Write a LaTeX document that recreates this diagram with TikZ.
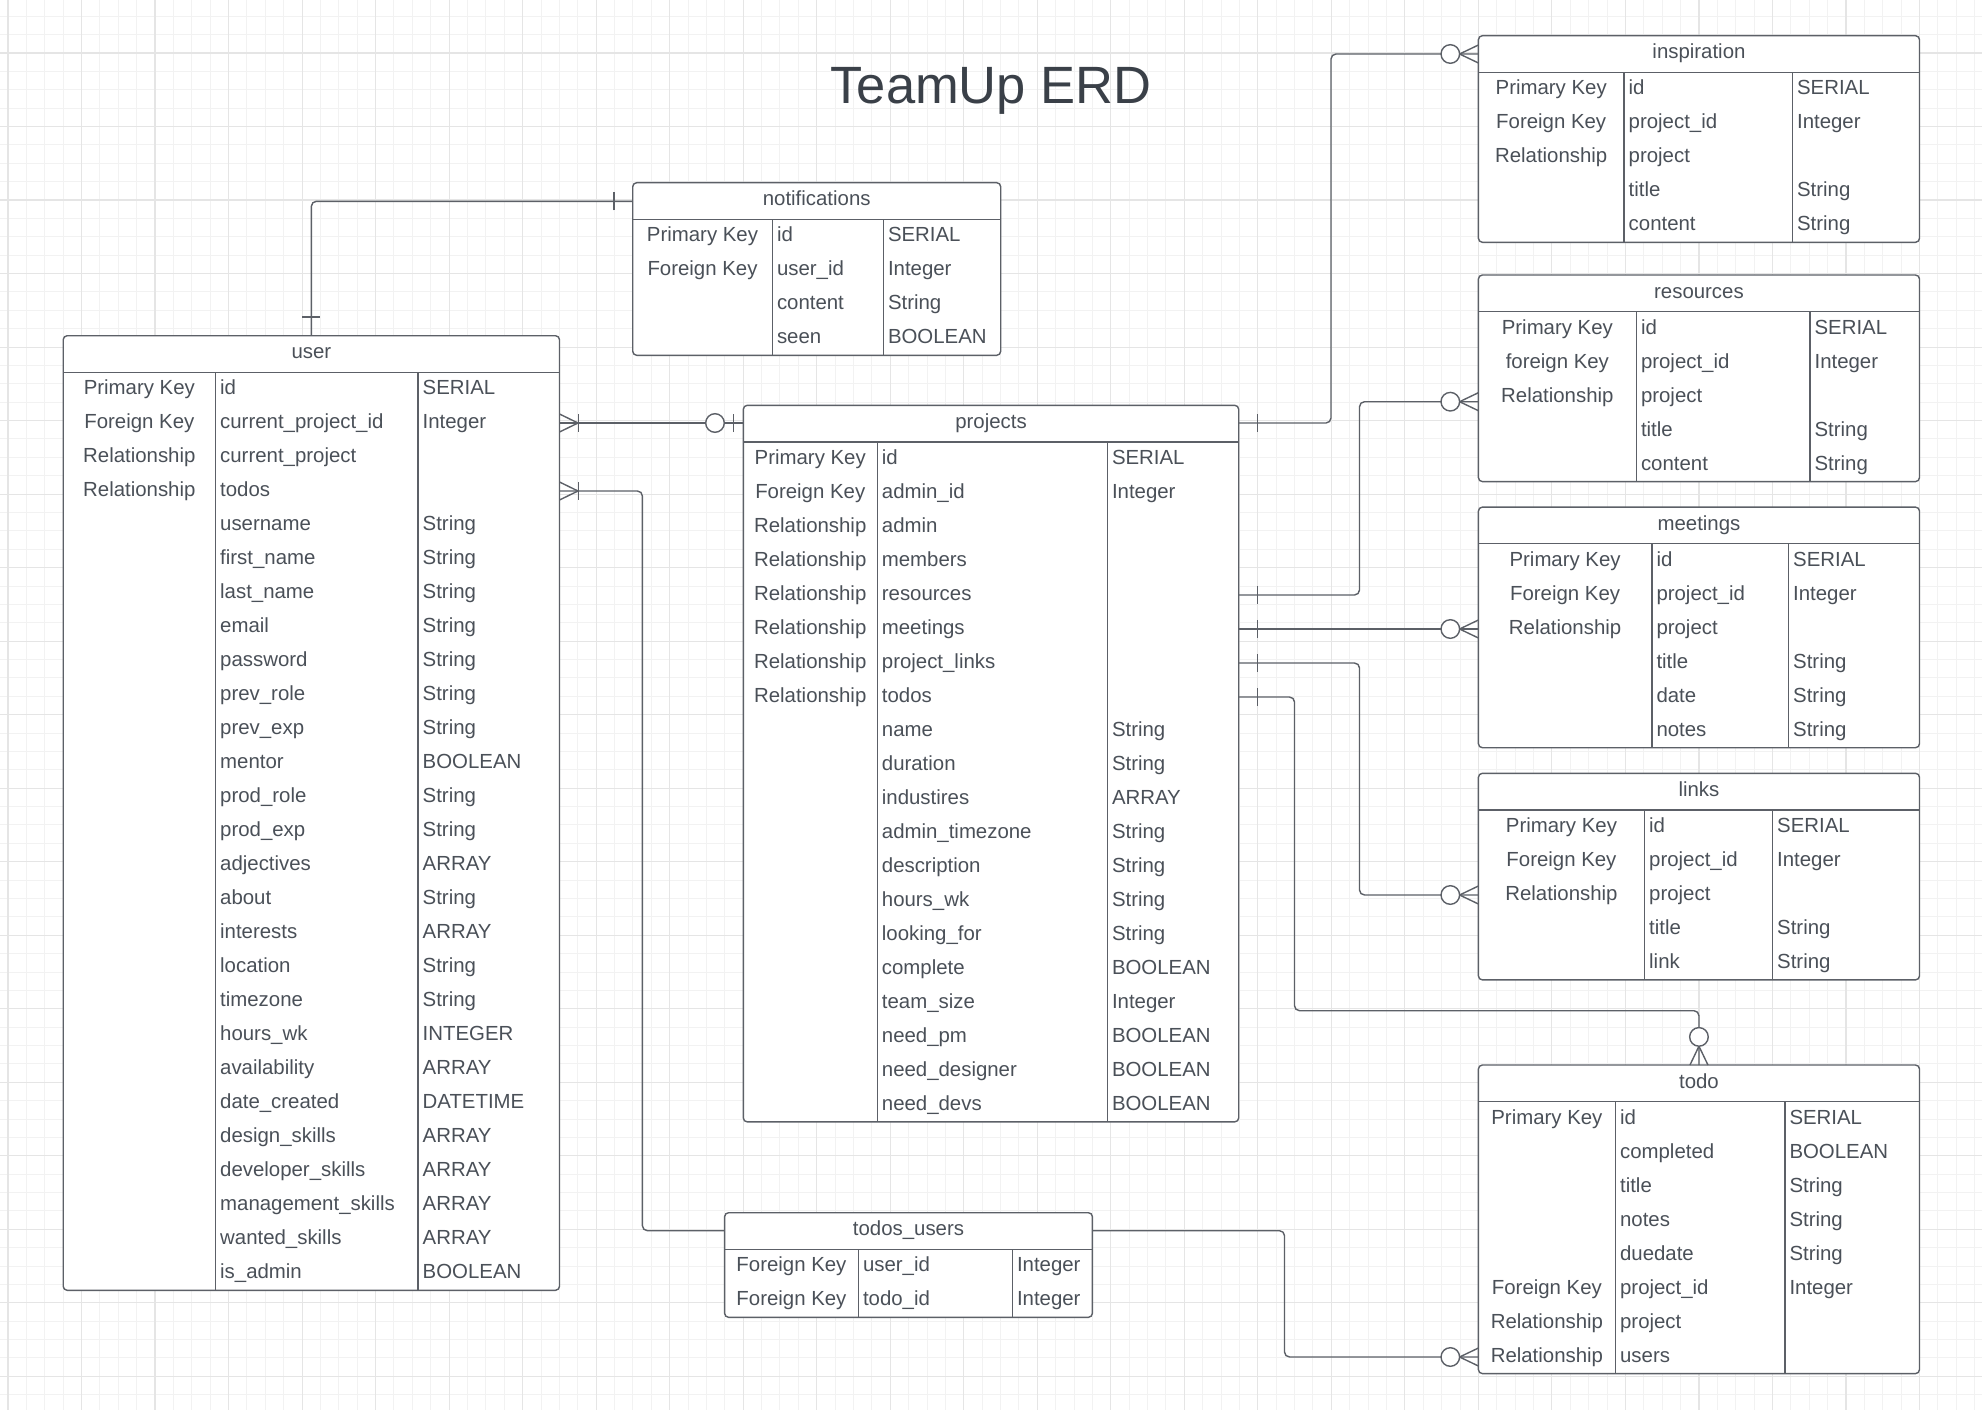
\documentclass[tikz,border=0pt]{standalone}
\usepackage{fontspec}
\setmainfont{Liberation Sans}
\usetikzlibrary{fit}

\definecolor{erdline}{HTML}{5C6067}
\definecolor{erdtext}{HTML}{4A5058}
\definecolor{erdtitle}{HTML}{3A4048}
\definecolor{gridminor}{HTML}{F2F2F2}
\definecolor{gridmajor}{HTML}{E5E5E5}

\tikzset{
  entity/.style={draw=erdline, line width=1.4pt, rounded corners=4pt, fill=white, inner sep=0pt, outer sep=0pt},
  boxline/.style={draw=erdline, line width=1.4pt},
  headtext/.style={anchor=base, inner sep=0pt, text=erdtext, font=\fontsize{20.4}{24}\selectfont},
  keytext/.style={headtext},
  celltext/.style={headtext, anchor=base west},
  conn/.style={draw=erdline, line width=1.4pt, rounded corners=5pt},
  gridfine/.style={draw=gridminor, line width=1pt},
  gridbold/.style={draw=gridmajor, line width=1.1pt},
  % cardinality marks, drawn outward from the entity edge along +x
  crowbar/.pic={
    \draw[conn, sharp corners] (0,-9) -- (18.5,0) -- (0,9);
    \draw[conn] (19,-9) -- (19,9);
  },
  crowring/.pic={
    \draw[conn, sharp corners] (0,-9) -- (18.8,0) -- (0,9);
    \draw[conn, fill=white] (28.1,0) circle[radius=9.3pt];
  },
  ringbar/.pic={
    \draw[conn] (10,-9) -- (10,9);
    \draw[conn, fill=white] (28.3,0) circle[radius=9.3pt];
  },
  onebar/.pic={
    \draw[conn] (18.7,-9) -- (18.7,9);
  }
}

% name, left, top, right, split 1, split 2, rows, title, key/field/type list
\newcommand{\erdtable}[9]{%
  \pgfmathsetmacro\erdhead{#3+36.6}
  \pgfmathsetmacro\erdbottom{#3+36.6+34*#7}
  \node[entity, fit={(#2,#3) (#4,\erdbottom)}] (#1) {};
  \node[headtext] (#1-title) at ({(#2+#4)/2},#3+23) {#8};
  \draw[boxline] (#2,\erdhead) -- (#4,\erdhead);
  \draw[boxline] (#5,\erdhead) -- (#5,\erdbottom);
  \draw[boxline] (#6,\erdhead) -- (#6,\erdbottom);
  \foreach \rkey/\rfield/\rtype [count=\rownum] in {#9} {
    \pgfmathsetmacro\rowy{\erdhead+34*(\rownum-1)+22.5}
    \node[keytext] (#1-k\rownum) at ({(#2+#5)/2},\rowy) {\rkey};
    \node[celltext] (#1-f\rownum) at (#5+4.5,\rowy) {\rfield};
    \node[celltext] (#1-t\rownum) at (#6+4.5,\rowy) {\rtype};
  }
}

\begin{document}
\begin{tikzpicture}[x=1pt, y=-1pt]
  \useasboundingbox (0,0) rectangle (1982,1410);
  \fill[white] (0,0) rectangle (1982,1410);

  % grid
  \foreach \gx in {0,...,107} \draw[gridfine] ({8+18.38*\gx},0) -- ({8+18.38*\gx},1410);
  \foreach \gy in {-3,...,74} \draw[gridfine] (0,{53+18.38*\gy}) -- (1982,{53+18.38*\gy});
  \foreach \gx in {0,4,...,104} \draw[gridbold] ({8+18.38*\gx},0) -- ({8+18.38*\gx},1410);
  \foreach \gy in {0,4,...,72} \draw[gridbold] (0,{53+18.38*\gy}) -- (1982,{53+18.38*\gy});

  \node[anchor=base, inner sep=0pt, text=erdtitle, font=\fontsize{52.5}{62}\selectfont] (title) at (991,104) {TeamUp ERD};

  % tables
  \erdtable{user}{63.2}{335.7}{559.5}{215.5}{418}{27}{user}{Primary Key/id/SERIAL, Foreign Key/current\_project\_id/Integer,
    Relationship/current\_project/, Relationship/todos/, /username/String, /first\_name/String, /last\_name/String,
    /email/String, /password/String, /prev\_role/String, /prev\_exp/String, /mentor/BOOLEAN, /prod\_role/String,
    /prod\_exp/String, /adjectives/ARRAY, /about/String, /interests/ARRAY, /location/String, /timezone/String,
    /hours\_wk/INTEGER, /availability/ARRAY, /date\_created/DATETIME, /design\_skills/ARRAY, /developer\_skills/ARRAY,
    /management\_skills/ARRAY, /wanted\_skills/ARRAY, /is\_admin/BOOLEAN}
  \erdtable{notifications}{632.7}{182.7}{1000.7}{772.3}{883.3}{4}{notifications}{Primary Key/id/SERIAL,
    Foreign Key/user\_id/Integer, /content/String, /seen/BOOLEAN}
  \erdtable{projects}{743.3}{405.3}{1238.7}{877.2}{1107.3}{20}{projects}{Primary Key/id/SERIAL,
    Foreign Key/admin\_id/Integer, Relationship/admin/, Relationship/members/, Relationship/resources/,
    Relationship/meetings/, Relationship/project\_links/, Relationship/todos/, /name/String, /duration/String,
    /industires/ARRAY, /admin\_timezone/String, /description/String, /hours\_wk/String, /looking\_for/String,
    /complete/BOOLEAN, /team\_size/Integer, /need\_pm/BOOLEAN, /need\_designer/BOOLEAN, /need\_devs/BOOLEAN}
  \erdtable{todosusers}{724.6}{1212.7}{1092.4}{858.3}{1012.3}{2}{todos\_users}{Foreign Key/user\_id/Integer,
    Foreign Key/todo\_id/Integer}
  \erdtable{inspiration}{1478.4}{35.7}{1919.5}{1624}{1792.4}{5}{inspiration}{Primary Key/id/SERIAL,
    Foreign Key/project\_id/Integer, Relationship/project/, /title/String, /content/String}
  \erdtable{resources}{1478.4}{275}{1919.5}{1636.3}{1809.9}{5}{resources}{Primary Key/id/SERIAL,
    foreign Key/project\_id/Integer, Relationship/project/, /title/String, /content/String}
  \erdtable{meetings}{1478.4}{507.1}{1919.5}{1651.8}{1788.5}{6}{meetings}{Primary Key/id/SERIAL,
    Foreign Key/project\_id/Integer, Relationship/project/, /title/String, /date/String, /notes/String}
  \erdtable{links}{1478.4}{773.3}{1919.5}{1644.5}{1772.5}{5}{links}{Primary Key/id/SERIAL,
    Foreign Key/project\_id/Integer, Relationship/project/, /title/String, /link/String}
  \erdtable{todo}{1478.4}{1065}{1919.5}{1615.4}{1784.8}{8}{todo}{Primary Key/id/SERIAL, /completed/BOOLEAN,
    /title/String, /notes/String, /duedate/String, Foreign Key/project\_id/Integer, Relationship/project/,
    Relationship/users/}

  % relations
  \draw[conn] (user.north) |- (notifications.west |- 0,201.3);
  \pic[rotate=90] at (user.north) {onebar};
  \pic[rotate=180] at (notifications.west |- 0,201.3) {onebar};

  \draw[conn] (user.east |- 0,423) -- (projects.west |- 0,423);
  \pic at (user.east |- 0,423) {crowbar};
  \pic[rotate=180] at (projects.west |- 0,423) {ringbar};

  \draw[conn] (user.east |- 0,491) -| (642.4,1230.7) -- (todosusers.west |- 0,1230.7);
  \pic at (user.east |- 0,491) {crowbar};

  \draw[conn] (todosusers.east |- 0,1230.7) -| (1284.5,1357) -- (todo.west |- 0,1357);
  \pic[rotate=180] at (todo.west |- 0,1357) {crowring};

  \draw[conn] (projects.east |- 0,423) -| (1331,54) -- (inspiration.west |- 0,54);
  \pic at (projects.east |- 0,423) {onebar};
  \pic[rotate=180] at (inspiration.west |- 0,54) {crowring};

  \draw[conn] (projects.east |- 0,595) -| (1359.5,401.7) -- (resources.west |- 0,401.7);
  \pic at (projects.east |- 0,595) {onebar};
  \pic[rotate=180] at (resources.west |- 0,401.7) {crowring};

  \draw[conn] (projects.east |- 0,629) -- (meetings.west |- 0,629);
  \pic at (projects.east |- 0,629) {onebar};
  \pic[rotate=180] at (meetings.west |- 0,629) {crowring};

  \draw[conn] (projects.east |- 0,663) -| (1359.5,895) -- (links.west |- 0,895);
  \pic at (projects.east |- 0,663) {onebar};
  \pic[rotate=180] at (links.west |- 0,895) {crowring};

  \draw[conn] (projects.east |- 0,697) -| (1294.5,1010.7) -| (todo.north);
  \pic at (projects.east |- 0,697) {onebar};
  \pic[rotate=90] at (todo.north) {crowring};
\end{tikzpicture}
\end{document}
